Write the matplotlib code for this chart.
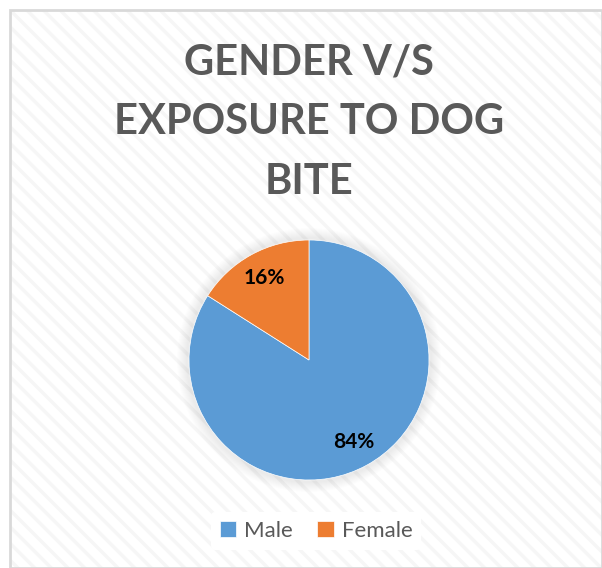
import matplotlib.pyplot as plt
from matplotlib.patches import Rectangle, Circle

labels = ["Male", "Female"]
values = [84, 16]
colors = ["#5b9bd5", "#ed7d31"]
title = "GENDER V/S\nEXPOSURE TO DOG\nBITE"

W, H = 602, 568
fig = plt.figure(figsize=(W / 100, H / 100), dpi=100)
fig.patch.set_facecolor("white")

# chart area with faint diagonal stripes and light border
bg = fig.add_axes([0, 0, 1, 1])
bg.set_xlim(0, W)
bg.set_ylim(H, 0)
bg.axis("off")
plt.rcParams["hatch.linewidth"] = 2.5
bg.add_patch(Rectangle((10, 10), W - 10, H - 10, facecolor="white",
                       edgecolor="#f6f6f6", hatch="\\\\", lw=0))
bg.add_patch(Rectangle((10, 10), W - 10, H - 10, facecolor="none",
                       edgecolor="#d9d9d9", lw=2))

# soft shadow behind pie
cx, cy, r = 309, 360, 120
for i in range(10):
    bg.add_patch(Circle((cx, cy), r + 12 - i, facecolor="#000000",
                        alpha=0.008, lw=0))

fig.text(cx / W, 1 - 122 / H, title, ha="center", va="center",
         fontsize=30, fontweight="bold", color="#595959",
         family="Lato", linespacing=1.7)

ax = fig.add_axes([(cx - r) / W, 1 - (cy + r) / H, 2 * r / W, 2 * r / H])
wedges, texts, autotexts = ax.pie(
    values, colors=colors, startangle=90, counterclock=False,
    autopct="%1.0f%%", pctdistance=0.78,
    wedgeprops=dict(linewidth=0.5, edgecolor="white"),
    textprops=dict(fontsize=15, fontweight="bold", color="black", family="Lato"))
ax.set_xlim(-1, 1)
ax.set_ylim(-1, 1)
ax.set_aspect("equal")

leg = fig.legend(wedges, labels, loc="center", bbox_to_anchor=(316 / W, 1 - 531 / H),
                 ncol=2, frameon=True, handlelength=0.75,
                 handleheight=0.75, handletextpad=0.35, columnspacing=1.1,
                 prop=dict(family="Lato", size=16))
leg.get_frame().set_facecolor("white")
leg.get_frame().set_edgecolor("none")
leg.get_frame().set_alpha(1)
for t in leg.get_texts():
    t.set_color("#595959")

fig.savefig("out.png", dpi=100)
